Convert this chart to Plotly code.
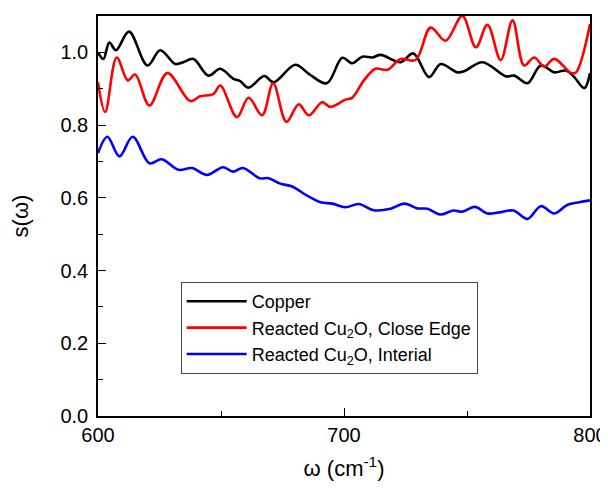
import plotly.graph_objects as go

# Data
copper_x = [600, 602.2, 604.6, 607.3, 612.6, 620.1, 625.3, 631.4, 634.7, 638.8, 644.9, 649.7,
            655.1, 657.8, 661.2, 667.6, 671.4, 680.2, 685.7, 693.0, 699.3, 703.3, 707.4, 711.5,
            714.9, 723.0, 728.2, 734.6, 739.3, 746.1, 748.8, 756.3, 765.8, 769.2, 774.6, 780.0,
            785.5, 790.2, 793.6, 797.7, 800]
copper_y = [1.0, 0.982, 1.027, 1.006, 1.057, 0.964, 1.006, 0.968, 0.973, 0.982, 0.936, 0.955,
            0.927, 0.921, 0.903, 0.935, 0.918, 0.966, 0.941, 0.915, 0.985, 0.970, 0.988, 0.986,
            0.993, 0.973, 0.997, 0.932, 0.968, 0.945, 0.948, 0.973, 0.934, 0.936, 0.915, 0.964,
            0.945, 0.950, 0.932, 0.902, 0.943]

edge_x = [600, 602.9, 607.6, 612.1, 615.1, 620.9, 628.2, 637.5, 641.5, 647.0, 649.7, 656.5,
          661.2, 666.7, 671.2, 676.6, 681.6, 685.7, 691.1, 694.5, 700.6, 703.3, 708.1, 712.8,
          717.6, 723.0, 729.1, 735.2, 741.3, 748.1, 753.6, 758.3, 763.7, 768.5, 773.2, 777.3,
          781.4, 785.5, 792.3, 794.3, 800]
edge_y = [0.918, 0.836, 0.986, 0.923, 0.939, 0.854, 0.943, 0.866, 0.879, 0.886, 0.909, 0.822,
          0.875, 0.827, 0.915, 0.809, 0.857, 0.827, 0.863, 0.850, 0.870, 0.875, 0.923, 0.955,
          0.952, 0.982, 0.979, 1.068, 1.032, 1.100, 1.014, 1.076, 0.979, 1.088, 0.964, 0.986,
          0.961, 0.982, 0.943, 0.945, 1.078]

interial_x = [600, 603.8, 608.7, 614.1, 620.9, 625.9, 632.7, 638.2, 644.3, 650.8, 654.9, 658.9,
              665.7, 669.4, 674.1, 678.9, 685.0, 690.4, 695.2, 700.6, 706.0, 712.1, 718.9, 724.6,
              729.8, 733.9, 739.0, 744.5, 748.1, 753.2, 758.3, 763.1, 768.9, 774.6, 780.0, 785.5,
              790.9, 795.6, 800]
interial_y = [0.723, 0.768, 0.714, 0.768, 0.695, 0.706, 0.677, 0.682, 0.663, 0.684, 0.672, 0.682,
              0.654, 0.654, 0.639, 0.631, 0.606, 0.588, 0.584, 0.574, 0.583, 0.566, 0.570, 0.584,
              0.571, 0.570, 0.554, 0.565, 0.562, 0.575, 0.557, 0.560, 0.565, 0.542, 0.577, 0.557,
              0.581, 0.588, 0.593]

series_names = ["Copper", "Reacted Cu<sub>2</sub>O, Close Edge", "Reacted Cu<sub>2</sub>O, Interial"]
series_colors = ["#000000", "#ff0000", "#0000ff"]

x_ticks = [600, 700, 800]
y_ticks = [0.0, 0.2, 0.4, 0.6, 0.8, 1.0]
y_tick_text = ["0.0", "0.2", "0.4", "0.6", "0.8", "1.0"]

FONT = "Liberation Sans, Arial, sans-serif"

fig = go.Figure()
for xs, ys, name, col in zip([copper_x, edge_x, interial_x],
                             [copper_y, edge_y, interial_y],
                             series_names, series_colors):
    fig.add_trace(go.Scatter(x=xs, y=ys, mode="lines", name=name,
                             line=dict(color=col, width=2.6, shape="spline", smoothing=1.0)))

# page body has an 8px margin, so the figure is drawn 8px in from the top-left corner
fig.update_layout(
    width=600, height=483,
    margin=dict(l=90, r=18, t=8, b=75),
    paper_bgcolor="white", plot_bgcolor="white",
    font=dict(family=FONT, size=20, color="black"),
    showlegend=True,
    legend=dict(x=0.168, y=0.335, xanchor="left", yanchor="top",
                bgcolor="white", bordercolor="#444444", borderwidth=1,
                font=dict(family=FONT, size=18, color="black"),
                tracegroupgap=0, itemwidth=60),
)
fig.update_xaxes(
    range=[600, 800], tickvals=x_ticks, ticks="inside", ticklen=8, tickwidth=1.2,
    tickcolor="black", showline=True, linecolor="black", linewidth=1.5, mirror=True,
    showgrid=False, zeroline=False, tickfont=dict(size=20), automargin=False,
    minor=dict(dtick=50, ticks="inside", ticklen=5, tickcolor="black", tickwidth=1.2, showgrid=False),
    title=dict(text="ω (cm<sup>-1</sup>)", font=dict(size=22), standoff=16),
)
fig.update_yaxes(
    range=[0, 1.1], tickvals=y_ticks, ticktext=y_tick_text, ticks="inside", ticklen=8,
    tickwidth=1.2, tickcolor="black", showline=True, linecolor="black", linewidth=1.5,
    mirror=True, showgrid=False, zeroline=False, tickfont=dict(size=20), ticklabelstandoff=4,
    automargin=False,
    minor=dict(tickvals=[0.1, 0.3, 0.5, 0.7, 0.9], ticks="inside", ticklen=5, tickcolor="black",
               tickwidth=1.2, showgrid=False),
    title=dict(text="s(ω)", font=dict(size=22), standoff=27),
)

fig.write_html("out.html")
